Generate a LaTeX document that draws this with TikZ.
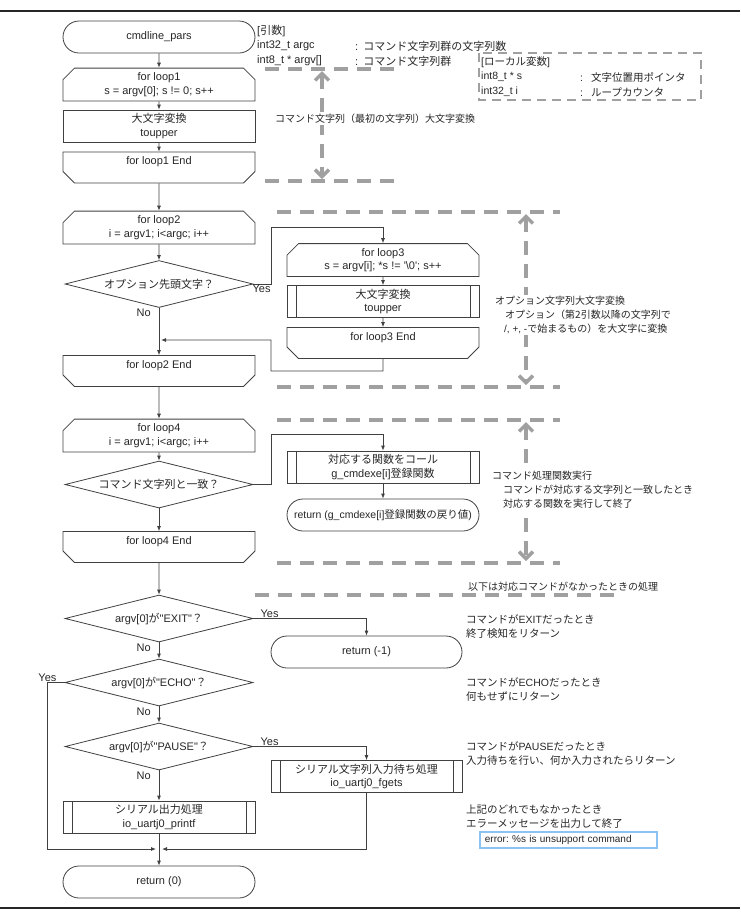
\documentclass[tikz,border=0pt]{standalone}
\usepackage{fontspec}
\setmainfont{Liberation Sans}[Ligatures=TeXOff]
\newfontfamily\jp{Noto Sans CJK JP}
\newcommand\jtxt[1]{{\jp #1}}
\usetikzlibrary{shapes.misc,shapes.geometric,arrows.meta}
\definecolor{guidegray}{HTML}{A0A0A0}
\definecolor{errblue}{HTML}{8DC3F2}
\frenchspacing
\tikzset{
  fc/.style={draw=black!75, line width=0.8pt, align=center, text=black!85,
    font=\fontsize{11}{13.5}\selectfont, inner sep=1pt},
  term/.style={fc, rectangle, rounded corners=16pt, minimum width=192pt, minimum height=32pt},
  proc/.style={fc, rectangle, minimum width=192pt, minimum height=32pt},
  subproc/.style={proc, path picture={
    \draw[black!75, line width=0.8pt]
      ([xshift=9pt]path picture bounding box.north west) -- ([xshift=9pt]path picture bounding box.south west)
      ([xshift=-9pt]path picture bounding box.north east) -- ([xshift=-9pt]path picture bounding box.south east);}},
  loopbeg/.style={fc, chamfered rectangle, chamfered rectangle corners={north west,north east},
    chamfered rectangle xsep=8pt, minimum width=192pt, minimum height=31pt},
  loopend/.style={loopbeg, chamfered rectangle corners={south west,south east}},
  decide/.style={fc, diamond, aspect=4, minimum width=188pt, minimum height=47pt, inner sep=0pt},
  flow/.style={draw=black!75, line width=0.8pt, -{Latex[length=5pt,width=4pt]}},
  lbl/.style={font=\fontsize{11}{13}\selectfont, text=black!85, inner sep=1pt},
  note/.style={font=\fontsize{10.5}{14}\selectfont, text=black!85, align=left, anchor=west,
    inner sep=0pt},
  guide/.style={draw=guidegray, line width=3.5pt, dash pattern=on 14pt off 9pt},
  guidearrow/.style={{Straight Barb[length=7pt,width=14pt]}-{Straight Barb[length=7pt,width=14pt]}},
}
\begin{document}
\begin{tikzpicture}[x=1pt,y=-1pt]
  \useasboundingbox (0,0) rectangle (740,914);
  \draw[line width=1.5pt, black!85] (0,11) -- (740,11) (0,908) -- (740,908);

  % guides
  \draw[guide] (265,69) -- (400,69) (265,181) -- (400,181);
  \draw[guide, guidearrow] (322,71) -- (322,179);
  \foreach \ya/\yb in {212/387, 420/563} {
    \draw[guide] (277,\ya) -- (560,\ya) (277,\yb) -- (560,\yb);
    \draw[guide, guidearrow] (526,\ya+2) -- (526,\yb-2);
  }
  \draw[guide] (255,595) -- (622,595);
  \draw[draw=guidegray, line width=2pt, dash pattern=on 9pt off 6pt] (479,53) rectangle (701,100);

  % main flow
  \node[term] (start) at (159,37) {cmdline\_pars};
  \node[loopbeg] (L1) at (159,84.5) {for loop1\\s = argv[0]; s != 0; s++};
  \node[proc] (up1) at (159,126) {\jtxt{大文字変換}\\toupper};
  \node[loopend] (E1) at (159,167.5) {for loop1 End\\\mbox{}};
  \node[loopbeg] (L2) at (159,227.5) {for loop2\\i = argv1; i<argc; i++};
  \node[decide] (d1) at (159,284) {\jtxt{オプション先頭文字？}};
  \node[loopbeg] (L3) at (383,260) {for loop3\\s = argv[i]; *s != '\textbackslash 0'; s++};
  \node[subproc] (up2) at (383,301.5) {\jtxt{大文字変換}\\toupper};
  \node[loopend] (E3) at (383,343) {for loop3 End\\\mbox{}};
  \node[loopend] (E2) at (159,371) {for loop2 End\\\mbox{}};
  \node[loopbeg] (L4) at (159,435.5) {for loop4\\i = argv1; i<argc; i++};
  \node[decide] (d2) at (159,484.5) {\jtxt{コマンド文字列と一致？}};
  \node[subproc] (call) at (383,467) {\jtxt{対応する関数をコール}\\g\_cmdexe[i]\jtxt{登録関数}};
  \node[term, font=\fontsize{10.5}{13}\selectfont] (ret1) at (383,515)
    {return (g\_cmdexe[i]\jtxt{登録関数の戻り値})};
  \node[loopend] (E4) at (159,547) {for loop4 End\\\mbox{}};
  \node[decide] (dexit) at (159,618.5) {argv[0]\jtxt{が}"EXIT"\jtxt{？}};
  \node[term, minimum width=191pt] (rm1) at (366.5,652) {return (-1)};
  \node[decide] (decho) at (159,682.5) {argv[0]\jtxt{が}"ECHO"\jtxt{？}};
  \node[decide] (dpause) at (159,746.5) {argv[0]\jtxt{が}"PAUSE"\jtxt{？}};
  \node[subproc, minimum width=191pt] (fgets) at (366.5,776.5)
    {\jtxt{シリアル文字列入力待ち処理}\\io\_uartj0\_fgets};
  \node[subproc] (printf) at (159,817) {\jtxt{シリアル出力処理}\\io\_uartj0\_printf};
  \node[term] (r0) at (159,882) {return (0)};
  \coordinate (j2) at (159,340);
  \coordinate (j0) at (159,849);

  \draw[flow] (start) -- (L1);
  \draw[flow] (L1) -- (up1);
  \draw[flow] (up1) -- (E1);
  \draw[flow] (E1) -- (L2);
  \draw[flow] (L2) -- (d1);
  \draw[flow] (d1.south) -- (E2.north);
  \draw[flow] (d1.east) -- ++(18,0) |- ([yshift=16pt]L3.north) -- (L3.north);
  \draw[flow] (L3) -- (up2);
  \draw[flow] (up2) -- (E3);
  \draw[flow] (E3.south) -- ++(0,12) -| ++(-112,-31) -- ([xshift=2pt]j2);
  \draw[flow] (E2) -- (L4);
  \draw[flow] (L4) -- (d2);
  \draw[flow] (d2.east) -- ++(18,0) |- ([yshift=16pt]call.north) -- (call.north);
  \draw[flow] (call) -- (ret1);
  \draw[flow] (d2.south) -- (E4.north);
  \draw[flow] (E4) -- (dexit);
  \draw[flow] (dexit.east) -| (rm1.north);
  \draw[flow] (dexit.south) -- (decho.north);
  \draw[flow] (decho.west) -- ++(-17,0) |- ([xshift=-3pt]j0);
  \draw[flow] (decho.south) -- (dpause.north);
  \draw[flow] (dpause.east) -| (fgets.north);
  \draw[flow] (dpause.south) -- (printf.north);
  \draw[flow] (fgets.south) |- ([xshift=3pt]j0);
  \draw[flow] (printf.south) -- (r0.north);

  \node[lbl, below right, xshift=-2pt] at (d1.east) {Yes};
  \node[lbl, below left, xshift=-7pt] at (d1.south) {No};
  \node[lbl, above right, xshift=6pt] at (dexit.east) {Yes};
  \node[lbl, below left, xshift=-7pt] at (dexit.south) {No};
  \node[lbl, above left, xshift=-7pt] at (decho.west) {Yes};
  \node[lbl, below left, xshift=-7pt] at (decho.south) {No};
  \node[lbl, above right, xshift=6pt] at (dpause.east) {Yes};
  \node[lbl, below left, xshift=-7pt] at (dpause.south) {No};

  % notes
  \node[note, font=\fontsize{11}{14}\selectfont] (arg0) at (257,31) {[\jtxt{引数}]};
  \node[note, font=\fontsize{11}{14}\selectfont] (arg1) at (257,46) {int32\_t argc};
  \node[note, font=\fontsize{11}{14}\selectfont] (arg1d) at (355,46) {:\hspace{5pt}\jtxt{コマンド文字列群の文字列数}};
  \node[note, font=\fontsize{11}{14}\selectfont] (arg2) at (257,61) {int8\_t * argv[]};
  \node[note, font=\fontsize{11}{14}\selectfont] (arg2d) at (355,61) {:\hspace{5pt}\jtxt{コマンド文字列群}};
  \node[note] (loc0) at (481,62) {[\jtxt{ローカル変数}]};
  \node[note] (loc1) at (481,77) {int8\_t * s};
  \node[note] (loc1d) at (580,77) {:\hspace{8pt}\jtxt{文字位置用ポインタ}};
  \node[note] (loc2) at (481,92) {int32\_t i};
  \node[note] (loc2d) at (580,92) {:\hspace{8pt}\jtxt{ループカウンタ}};
  \node[note, fill=white, inner sep=1pt, font=\fontsize{10}{14}\selectfont] (n1) at (274,119)
    {\jtxt{コマンド文字列（最初の文字列）大文字変換}};
  \node[note, fill=white, inner sep=1pt, font=\fontsize{10}{14}\selectfont] (n2) at (494,315)
    {\jtxt{オプション文字列大文字変換}\\
     \hspace{10pt}\jtxt{オプション（第2引数以降の文字列で}\\
     \hspace{9pt}/, +, -\jtxt{で始まるもの）を大文字に変換}};
  \node[note, fill=white, inner sep=1pt, font=\fontsize{10}{14}\selectfont] (n3) at (491,490)
    {\jtxt{コマンド処理関数実行}\\
     \hspace{11pt}\jtxt{コマンドが対応する文字列と一致したとき}\\
     \hspace{11pt}\jtxt{対応する関数を実行して終了}};
  \node[note, font=\fontsize{10}{14}\selectfont] (n4) at (468,587)
    {\jtxt{以下は対応コマンドがなかったときの処理}};
  \node[note] (n5) at (466,626) {\jtxt{コマンドが}EXIT\jtxt{だったとき}\\\jtxt{終了検知をリターン}};
  \node[note] (n6) at (466,689) {\jtxt{コマンドが}ECHO\jtxt{だったとき}\\\jtxt{何もせずにリターン}};
  \node[note] (n7) at (466,753) {\jtxt{コマンドが}PAUSE\jtxt{だったとき}\\\jtxt{入力待ちを行い、何か入力されたらリターン}};
  \node[note] (n8) at (466,817) {\jtxt{上記のどれでもなかったとき}\\\jtxt{エラーメッセージを出力して終了}};
  \node[draw=errblue, line width=1.8pt, fill=white, anchor=west, minimum height=16pt,
    text width=167pt, inner xsep=5pt, inner ysep=0pt, align=left, text=black!85,
    font=\fontsize{10}{12}\selectfont] (err) at (479,840) {error: \%s is unsupport command};
\end{tikzpicture}
\end{document}
